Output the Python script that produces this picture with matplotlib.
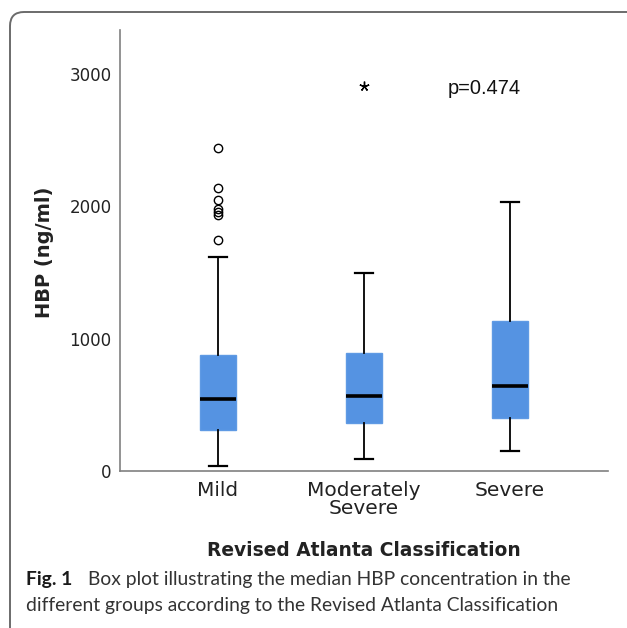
import matplotlib.pyplot as plt
from matplotlib.path import Path
from matplotlib.patches import PathPatch

groups = ['Mild', 'Moderately\nSevere', 'Severe']
whislo = [38, 90, 151]
q1 = [310, 362, 400]
med = [543, 566, 642]
q3 = [875, 890, 1132]
whishi = [1615, 1494, 2030]
outliers = [[2440, 2135, 2050, 1980, 1955, 1930, 1745], [], []]
extremes = [[], [2905], []]
yticks = [0, 1000, 2000, 3000]

fig = plt.figure(figsize=(6.27, 6.28), dpi=100)
W, H = 627, 628

# frame: left edge, rounded top-left corner, top edge (rest runs off the page)
r = 14
pts = [(10, 640), (10, 12 + r), (10, 12), (10 + r, 12), (640, 12)]
codes = [Path.MOVETO, Path.LINETO, Path.CURVE3, Path.CURVE3, Path.LINETO]
frame = PathPatch(Path([(x / W, 1 - y / H) for x, y in pts], codes),
                  transform=fig.transFigure, fill=False,
                  edgecolor='#6b6b6b', linewidth=1.4, clip_on=False)
fig.patches.append(frame)

ax = fig.add_axes([120 / W, 1 - 471 / H, 488 / W, 441 / H])

stats = []
for i in range(len(groups)):
    stats.append(dict(label=groups[i], whislo=whislo[i], q1=q1[i], med=med[i],
                      q3=q3[i], whishi=whishi[i], fliers=outliers[i]))

ax.bxp(stats, positions=[1, 2, 3], widths=0.25, capwidths=0.125,
       patch_artist=True,
       boxprops=dict(facecolor='#5593e2', edgecolor='#5f9ae4', linewidth=1),
       medianprops=dict(color='black', linewidth=2.6),
       whiskerprops=dict(color='black', linewidth=1.3),
       capprops=dict(color='black', linewidth=1.6),
       flierprops=dict(marker='o', markerfacecolor='none', markeredgecolor='black',
                       markersize=6, markeredgewidth=1))

for i, ex in enumerate(extremes):
    for v in ex:
        ax.plot(i + 1, v, marker=(5, 2, 0), color='black', markersize=7,
                markeredgewidth=1, linestyle='none')

ax.set_xlim(0.33, 3.67)
ax.set_ylim(0, 3330)
ax.set_yticks(yticks)
ax.set_yticklabels([str(t) for t in yticks], fontsize=12, color='#222222')
ax.set_xticks([1, 2, 3])
ax.set_xticklabels(groups, fontsize=14.5, color='#222222', linespacing=0.95)
ax.tick_params(axis='both', length=0)
ax.tick_params(axis='y', pad=6)
ax.tick_params(axis='x', pad=7)

for s in ['top', 'right']:
    ax.spines[s].set_visible(False)
for s in ['left', 'bottom']:
    ax.spines[s].set_color('#808080')
    ax.spines[s].set_linewidth(1.2)

ax.text(2.82, 2890, 'p=0.474', fontsize=14.4, family='Liberation Sans',
        ha='center', va='center', color='#111111')

fig.text(45 / W, 1 - 252 / H, 'HBP (ng/ml)', rotation=90, fontsize=14,
         fontweight='bold', ha='center', va='center', color='#222222')
fig.text(364 / W, 1 - 550 / H, 'Revised Atlanta Classification', fontsize=13.4,
         fontweight='bold', ha='center', va='center', color='#222222')

fig.text(26 / W, 1 - 580 / H, 'Fig. 1', fontsize=13.9, fontweight='bold',
         family='Lato', ha='left', va='center', color='#1a1a1a')
fig.text(88 / W, 1 - 580 / H, 'Box plot illustrating the median HBP concentration in the',
         fontsize=13.9, family='Lato', ha='left', va='center', color='#333333')
fig.text(26 / W, 1 - 605 / H, 'different groups according to the Revised Atlanta Classification',
         fontsize=13.9, family='Lato', ha='left', va='center', color='#333333')

fig.savefig('out.png', dpi=100)
